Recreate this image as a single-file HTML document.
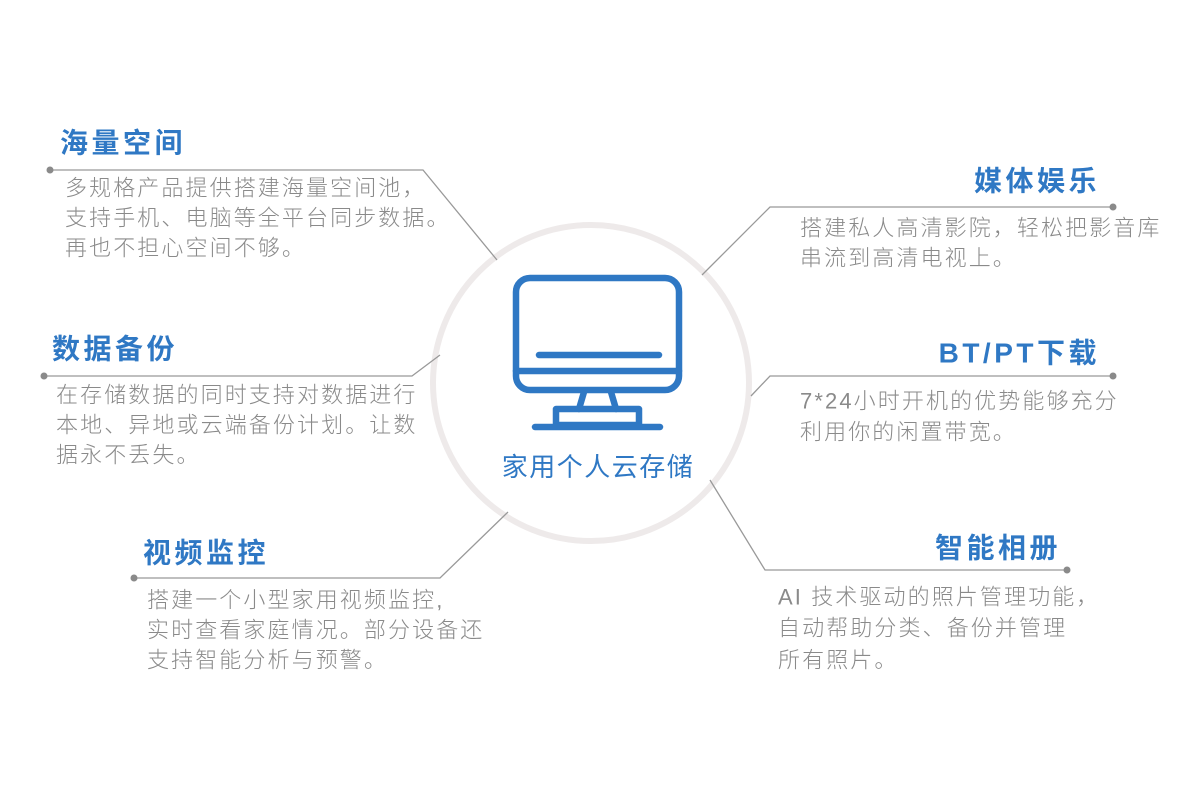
<!DOCTYPE html>
<html><head><meta charset="utf-8"><style>
body{margin:0;background:#fff;}
svg{display:block}
.t{font-family:"Liberation Sans","Noto Sans CJK SC",sans-serif;font-size:28px;font-weight:bold;fill:#2f78c4;letter-spacing:3.5px;dominant-baseline:central}
.b{font-family:"Liberation Sans","Noto Sans CJK SC",sans-serif;font-size:22px;fill:#8a8a8a;letter-spacing:2.1px;dominant-baseline:central;font-weight:300}
</style></head><body>
<svg width="1200" height="800" viewBox="0 0 1200 800" xmlns="http://www.w3.org/2000/svg">
<circle cx="591" cy="383" r="158" fill="#fff" stroke="#eeeaea" stroke-width="6"/>
<g fill="none" stroke="#2f78c4" stroke-width="6.5" stroke-linecap="round" stroke-linejoin="round">
<rect x="516" y="278" width="163" height="112" rx="14"/>
<line x1="516" y1="371" x2="679" y2="371"/>
<line x1="539" y1="355" x2="659" y2="355"/>
<path d="M584 392 L579 409 M611 392 L616 409"/>
<rect x="556" y="409" width="83" height="16"/>
<line x1="535" y1="427" x2="660" y2="427"/>
</g>
<text x="598" y="467" text-anchor="middle" font-family="Liberation Sans,Noto Sans CJK SC,sans-serif" font-size="26" fill="#2f78c4" letter-spacing="1.5" dominant-baseline="central">家用个人云存储</text>
<g fill="none" stroke="#999" stroke-width="1.3">
<polyline points="50,170 423,170 497,260"/>
<polyline points="44,376 412,376 440,355"/>
<polyline points="134,578 440,578 508,512"/>
<polyline points="1113,207 770,207 702,275"/>
<polyline points="1113,376 770,376 751,396"/>
<polyline points="1067,570 765,570 710,480"/>
</g>
<g fill="#8a8a8a">
<circle cx="50" cy="170" r="3.5"/><circle cx="44" cy="376" r="3.5"/><circle cx="134" cy="578" r="3.5"/>
<circle cx="1113" cy="207" r="3.5"/><circle cx="1113" cy="376" r="3.5"/><circle cx="1067" cy="570" r="3.5"/>
</g>
<text class="t" x="60" y="143">海量空间</text>
<text class="b" x="65" y="188">多规格产品提供搭建海量空间池，</text>
<text class="b" x="65" y="218">支持手机、电脑等全平台同步数据。</text>
<text class="b" x="65" y="248">再也不担心空间不够。</text>

<text class="t" x="52" y="349">数据备份</text>
<text class="b" x="56" y="395">在存储数据的同时支持对数据进行</text>
<text class="b" x="56" y="425">本地、异地或云端备份计划。让数</text>
<text class="b" x="56" y="455">据永不丢失。</text>

<text class="t" x="143" y="553">视频监控</text>
<text class="b" x="147" y="600">搭建一个小型家用视频监控,</text>
<text class="b" x="147" y="630">实时查看家庭情况。部分设备还</text>
<text class="b" x="147" y="660">支持智能分析与预警。</text>

<text class="t" x="1100" y="181" text-anchor="end">媒体娱乐</text>
<text class="b" x="800" y="228">搭建私人高清影院，轻松把影音库</text>
<text class="b" x="800" y="258">串流到高清电视上。</text>

<text class="t" x="1100" y="353" text-anchor="end">BT/PT下载</text>
<text class="b" x="800" y="401">7*24小时开机的优势能够充分</text>
<text class="b" x="800" y="432">利用你的闲置带宽。</text>

<text class="t" x="1061" y="548" text-anchor="end">智能相册</text>
<text class="b" x="778" y="597">AI 技术驱动的照片管理功能，</text>
<text class="b" x="778" y="628">自动帮助分类、备份并管理</text>
<text class="b" x="778" y="660">所有照片。</text>
</svg>
</body></html>
